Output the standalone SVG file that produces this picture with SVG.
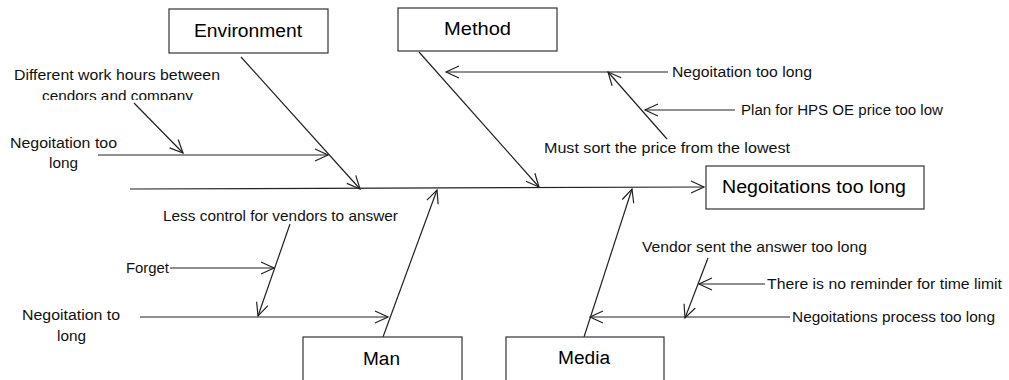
<svg xmlns="http://www.w3.org/2000/svg" width="1009" height="380" viewBox="0 0 1009 380">
<style>
.box{fill:#fff;stroke:#333;stroke-width:1.2}
.ln{fill:none;stroke:#222;stroke-width:1.2;marker-end:url(#arr)}
.big{font-family:"Liberation Sans",Arial,sans-serif;font-size:18px;fill:#000}
.sm{font-family:"Liberation Sans",Arial,sans-serif;font-size:14px;fill:#111}
</style>
<defs>
<marker id="arr" markerUnits="userSpaceOnUse" markerWidth="20" markerHeight="20" viewBox="-15 -10 20 20" refX="0" refY="0" orient="auto">
<path d="M-13,-6 L0,0 L-13,6" fill="none" stroke="#222" stroke-width="1.2"/>
</marker>
<clipPath id="clipDiff"><rect x="0" y="60" width="240" height="40"/></clipPath>
</defs>
<rect width="1009" height="380" fill="#fff"/>
<g id="connectors">
<line class="ln" x1="130" y1="189" x2="704" y2="187"/>
<line class="ln" x1="241" y1="57" x2="360" y2="189"/>
<line class="ln" x1="98" y1="155" x2="328" y2="155"/>
<line class="ln" x1="134" y1="103" x2="183" y2="153"/>
<line class="ln" x1="419" y1="52" x2="539" y2="187"/>
<line class="ln" x1="668" y1="72" x2="446" y2="72"/>
<line class="ln" x1="667" y1="139" x2="608" y2="72"/>
<line class="ln" x1="735" y1="110" x2="645" y2="110"/>
<line class="ln" x1="383" y1="337" x2="437" y2="190"/>
<line class="ln" x1="140" y1="317" x2="388" y2="317"/>
<line class="ln" x1="290" y1="224" x2="258" y2="316"/>
<line class="ln" x1="170" y1="268" x2="274" y2="268"/>
<line class="ln" x1="584" y1="337" x2="632" y2="189"/>
<line class="ln" x1="790" y1="317" x2="590" y2="317"/>
<line class="ln" x1="708" y1="258" x2="685" y2="318"/>
<line class="ln" x1="765" y1="284" x2="699" y2="284"/>
</g>
<g id="environment">
<rect class="box" x="169" y="9" width="159" height="44"/>
<text class="big" x="194" y="37" textLength="108" lengthAdjust="spacingAndGlyphs">Environment</text>
</g>
<g id="method">
<rect class="box" x="398" y="8" width="159" height="43"/>
<text class="big" x="444" y="35" textLength="67" lengthAdjust="spacingAndGlyphs">Method</text>
</g>
<g id="man">
<rect class="box" x="303" y="337" width="159" height="46"/>
<text class="big" x="363" y="365" textLength="37" lengthAdjust="spacingAndGlyphs">Man</text>
</g>
<g id="media">
<rect class="box" x="506" y="337" width="158" height="46"/>
<text class="big" x="558" y="364" textLength="52" lengthAdjust="spacingAndGlyphs">Media</text>
</g>
<g id="effect">
<rect class="box" x="706" y="166" width="218" height="43"/>
<text class="big" x="722" y="193" textLength="184" lengthAdjust="spacingAndGlyphs">Negoitations too long</text>
</g>
<g id="cause-different-hours">
<g clip-path="url(#clipDiff)">
<text class="sm" x="14" y="80" textLength="206" lengthAdjust="spacingAndGlyphs">Different work hours between</text>
<text class="sm" x="42" y="101" textLength="151" lengthAdjust="spacingAndGlyphs">cendors and company</text>
</g>
</g>
<g id="cause-env-negotiation">
<text class="sm" x="10" y="148" textLength="107" lengthAdjust="spacingAndGlyphs">Negoitation too</text>
<text class="sm" x="49" y="168" textLength="29" lengthAdjust="spacingAndGlyphs">long</text>
</g>
<g id="cause-method-negotiation">
<text class="sm" x="672" y="77" textLength="140" lengthAdjust="spacingAndGlyphs">Negoitation too long</text>
</g>
<g id="cause-plan">
<text class="sm" x="741" y="115" textLength="202" lengthAdjust="spacingAndGlyphs">Plan for HPS OE price too low</text>
</g>
<g id="cause-sort">
<text class="sm" x="544" y="153" textLength="246" lengthAdjust="spacingAndGlyphs">Must sort the price from the lowest</text>
</g>
<g id="cause-less-control">
<text class="sm" x="163" y="221" textLength="235" lengthAdjust="spacingAndGlyphs">Less control for vendors to answer</text>
</g>
<g id="cause-forget">
<text class="sm" x="126" y="273" textLength="43" lengthAdjust="spacingAndGlyphs">Forget</text>
</g>
<g id="cause-man-negotiation">
<text class="sm" x="22" y="320" textLength="98" lengthAdjust="spacingAndGlyphs">Negoitation to</text>
<text class="sm" x="57" y="341" textLength="29" lengthAdjust="spacingAndGlyphs">long</text>
</g>
<g id="cause-vendor-sent">
<text class="sm" x="642" y="252" textLength="225" lengthAdjust="spacingAndGlyphs">Vendor sent the answer too long</text>
</g>
<g id="cause-reminder">
<text class="sm" x="767" y="289" textLength="235" lengthAdjust="spacingAndGlyphs">There is no reminder for time limit</text>
</g>
<g id="cause-process">
<text class="sm" x="792" y="322" textLength="203" lengthAdjust="spacingAndGlyphs">Negoitations process too long</text>
</g>
</svg>
